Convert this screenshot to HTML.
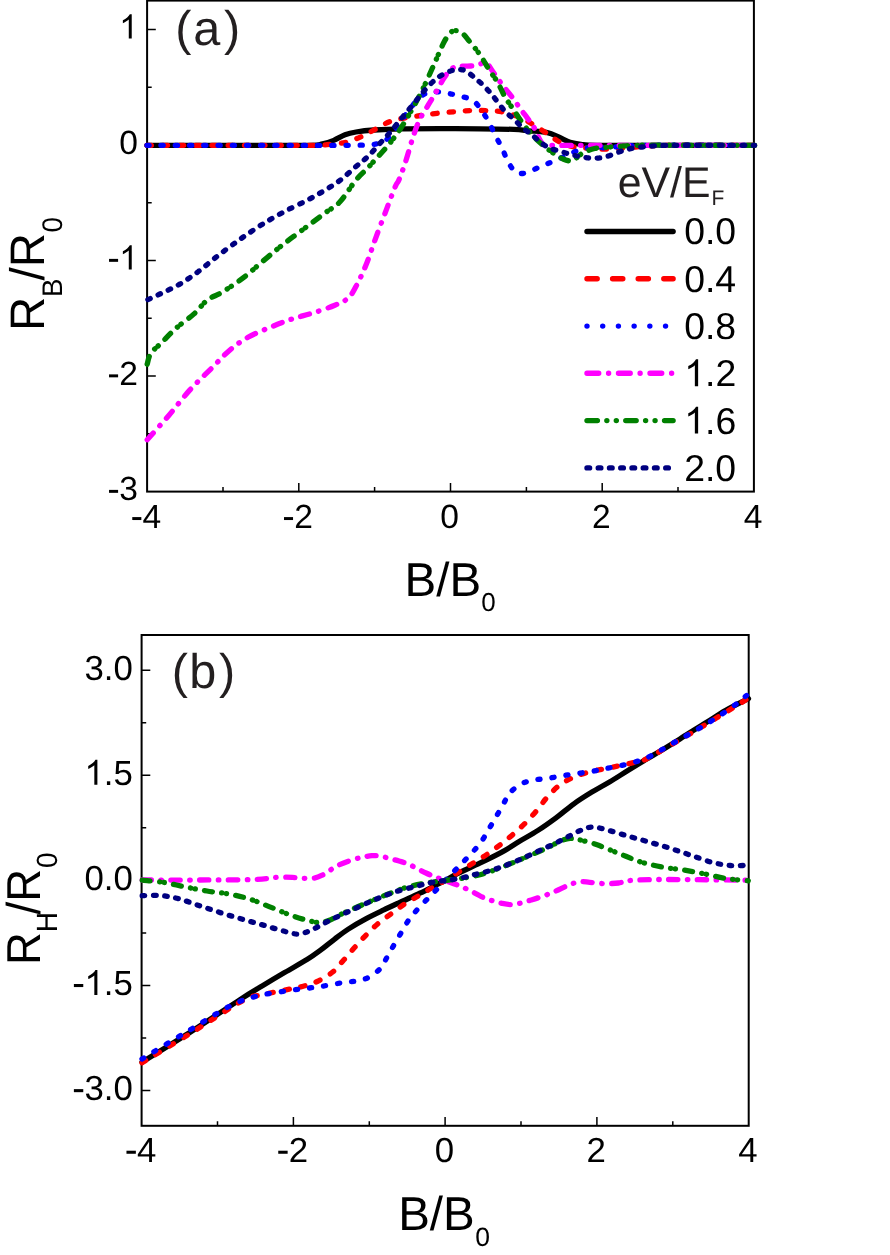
<!DOCTYPE html>
<html><head><meta charset="utf-8"><title>chart</title>
<style>html,body{margin:0;padding:0;background:#fff}body{width:890px;height:1255px;overflow:hidden}svg{display:block;will-change:transform}text{font-family:"Liberation Sans",sans-serif;fill:#000;text-rendering:geometricPrecision;font-kerning:none}.pl{fill:#231f20}.cv path{fill:none;stroke-width:5.3;stroke-linecap:round;stroke-linejoin:round}.cv.lg path{stroke-width:5.4}.fr{fill:none;stroke:#000;stroke-width:2}.tk{stroke:#000;stroke-width:1.5;fill:none}</style></head><body>
<svg width="890" height="1255" viewBox="0 0 890 1255">
<rect width="890" height="1255" fill="#fff"/>
<g id="pa">
<path class="tk" d="M223.0 491.6v-4.6M298.8 491.6v-8.7M374.6 491.6v-4.6M450.5 491.6v-8.7M526.4 491.6v-4.6M602.2 491.6v-8.7M678.0 491.6v-4.6M147.1 433.8h4.6M147.1 376.1h8.7M147.1 318.3h4.6M147.1 260.6h8.7M147.1 202.8h4.6M147.1 145.1h8.7M147.1 87.3h4.6M147.1 29.6h8.7"/>
<rect class="fr" x="147.1" y="0.6" width="606.8" height="491.0"/>
<path d="M132.27 520.04H141.34V517.08H132.27Z" fill="#000"/><text x="142.45" y="527.60" font-size="33.60">4</text>
<path d="M283.97 520.04H293.04V517.08H283.97Z" fill="#000"/><text x="294.15" y="527.60" font-size="33.60">2</text>
<text x="440.26" y="527.60" font-size="33.60">0</text>
<text x="591.96" y="527.60" font-size="33.60">2</text>
<text x="743.66" y="527.60" font-size="33.60">4</text>
<path d="M131.73 38.40L128.78 38.40L128.78 19.58Q127.71 20.60 125.98 21.62Q124.25 22.63 122.87 23.14L122.87 20.29Q125.35 19.12 127.20 17.47Q129.06 15.81 129.83 14.25L131.73 14.25Z" fill="#000"/>
<text x="119.21" y="153.90" font-size="33.60">0</text>
<path d="M109.03 261.84H118.10V258.88H109.03Z" fill="#000"/><path d="M131.73 269.40L128.78 269.40L128.78 250.58Q127.71 251.60 125.98 252.62Q124.25 253.63 122.87 254.14L122.87 251.29Q125.35 250.12 127.20 248.47Q129.06 246.81 129.83 245.25L131.73 245.25Z" fill="#000"/>
<path d="M109.03 377.34H118.10V374.38H109.03Z" fill="#000"/><text x="119.21" y="384.90" font-size="33.60">2</text>
<path d="M109.03 492.84H118.10V489.88H109.03Z" fill="#000"/><text x="119.21" y="500.40" font-size="33.60">3</text>
<g class="cv">
<path d="M147.0 145.3C164.2 145.3 222.8 145.3 250.0 145.3C277.2 145.3 297.9 145.6 310.0 145.3C322.1 145.1 318.6 144.6 322.5 143.8C326.4 143.0 329.9 141.9 333.7 140.4C337.4 138.9 341.3 136.2 345.0 134.8C348.7 133.4 351.2 132.8 356.0 132.0C360.8 131.2 366.5 130.5 374.0 130.0C381.5 129.5 390.0 129.0 401.0 128.8C412.0 128.6 426.8 128.6 440.0 128.6C453.2 128.6 467.7 128.7 480.0 128.8C492.3 128.9 505.5 129.1 513.7 129.4C521.9 129.7 523.8 130.3 529.4 130.8C535.0 131.3 542.5 131.6 547.4 132.6C552.3 133.6 554.9 135.4 558.7 137.0C562.5 138.6 566.3 141.1 570.0 142.3C573.7 143.5 576.5 143.9 581.0 144.4C585.5 144.9 583.8 145.2 597.0 145.3C610.2 145.5 633.8 145.3 660.0 145.3C686.2 145.3 738.8 145.3 754.5 145.3" stroke="#000000"/>
<path d="M147.0 145.3C164.2 145.3 222.0 145.3 250.0 145.3C278.0 145.3 302.2 145.4 315.0 145.3C327.8 145.2 322.0 145.2 327.0 144.7C332.0 144.2 339.4 143.8 345.0 142.5C350.6 141.2 355.9 139.0 360.7 136.9C365.5 134.8 369.1 132.6 374.0 130.0C378.9 127.4 384.7 123.5 390.0 121.5C395.3 119.5 400.4 118.8 405.6 117.8C410.8 116.8 415.8 116.2 421.0 115.5C426.2 114.8 431.3 113.9 437.0 113.3C442.7 112.7 449.4 112.2 455.0 111.7C460.6 111.2 465.6 110.8 470.8 110.6C476.1 110.4 481.4 110.4 486.5 110.6C491.6 110.8 495.8 110.6 501.3 111.7C506.8 112.8 514.0 114.9 519.3 117.0C524.5 119.1 528.3 121.8 532.8 124.5C537.3 127.2 542.0 130.2 546.3 133.0C550.6 135.8 554.4 139.2 558.7 141.5C563.0 143.8 566.8 145.3 572.0 146.5C577.2 147.7 583.5 148.1 590.0 148.5C596.5 148.9 604.3 149.2 611.0 149.0C617.7 148.8 623.5 148.0 630.0 147.5C636.5 147.0 641.7 146.2 650.0 145.8C658.3 145.4 662.6 145.4 680.0 145.3C697.4 145.2 742.1 145.3 754.5 145.3" stroke="#ff0000" stroke-dasharray="4.4 11.8"/>
<path d="M147.0 145.3C164.2 145.3 216.2 145.3 250.0 145.3C283.8 145.3 329.3 145.5 350.0 145.3C370.7 145.1 368.1 145.1 374.0 144.3C379.9 143.5 381.6 143.2 385.4 140.5C389.2 137.8 392.5 133.3 396.6 128.0C400.7 122.7 405.9 114.1 410.0 108.8C414.1 103.5 417.5 98.8 421.3 96.0C425.1 93.2 428.5 92.4 432.6 91.9C436.7 91.4 441.5 92.3 446.0 93.0C450.5 93.7 455.1 94.8 459.6 96.0C464.1 97.2 469.3 98.0 473.0 100.5C476.7 103.0 479.4 107.4 482.0 111.0C484.6 114.6 486.6 118.1 488.8 122.2C491.1 126.3 493.3 131.4 495.5 135.7C497.7 140.0 499.9 143.8 502.0 148.1C504.1 152.4 505.9 157.7 508.0 161.6C510.1 165.5 512.6 169.5 514.8 171.5C517.0 173.5 518.8 173.4 521.0 173.5C523.2 173.6 524.8 173.2 528.3 172.0C531.8 170.8 537.5 167.8 541.8 166.0C546.1 164.2 550.1 162.8 554.2 161.0C558.3 159.2 562.4 157.3 566.5 155.5C570.6 153.7 574.6 151.4 578.9 150.0C583.2 148.6 587.7 147.7 592.4 147.3C597.1 146.9 601.6 148.0 607.0 147.8C612.4 147.6 617.8 146.4 625.0 146.0C632.2 145.6 628.4 145.4 650.0 145.3C671.6 145.2 737.1 145.3 754.5 145.3" stroke="#0000ff" stroke-dasharray="2.2 12.0"/>
<path d="M147.2 439.8C150.8 435.7 161.6 423.8 168.8 415.4C176.0 407.0 183.2 397.3 190.4 389.4C197.6 381.5 205.4 374.4 212.0 367.8C218.6 361.2 224.0 355.0 230.0 349.9C236.0 344.8 241.4 341.0 248.0 337.3C254.6 333.6 262.3 330.6 269.5 327.6C276.7 324.6 283.8 321.7 291.0 319.3C298.2 316.9 305.5 315.3 312.7 313.0C319.9 310.7 328.2 308.1 334.2 305.5C340.2 302.9 344.7 301.4 348.6 297.7C352.5 294.0 354.6 289.0 357.6 283.3C360.6 277.6 363.6 271.0 366.6 263.5C369.6 256.0 372.3 247.3 375.6 238.3C378.9 229.3 383.1 218.3 386.4 209.6C389.7 200.9 393.3 191.1 395.4 186.2C397.5 181.3 397.2 184.1 398.9 180.0C400.6 175.9 403.4 168.4 405.6 161.6C407.9 154.8 410.2 145.9 412.4 139.1C414.6 132.3 416.4 126.6 419.0 121.0C421.6 115.4 425.4 109.9 428.0 105.4C430.6 100.9 432.2 98.7 434.8 94.2C437.4 89.7 441.2 82.5 443.8 78.4C446.4 74.3 448.4 71.8 450.6 69.8C452.9 67.8 453.9 66.9 457.3 66.3C460.7 65.7 467.1 66.4 470.8 66.0C474.6 65.6 477.2 64.5 479.8 64.0C482.4 63.5 484.2 61.8 486.5 63.2C488.8 64.6 490.8 68.8 493.5 72.5C496.2 76.2 499.5 81.2 502.5 85.2C505.5 89.2 508.5 92.5 511.5 96.4C514.5 100.3 517.8 105.2 520.4 108.8C523.0 112.4 524.9 114.7 527.2 117.8C529.5 120.9 532.1 124.3 534.0 127.5C535.9 130.7 537.0 134.3 538.4 137.0C539.8 139.7 540.7 142.2 542.5 143.6C544.3 145.0 539.4 145.0 549.0 145.3C558.6 145.6 565.8 145.3 600.0 145.3C634.2 145.3 728.8 145.3 754.5 145.3" stroke="#ff00ff" stroke-dasharray="9.3 9.45 0.5 9.45"/>
<path d="M147.2 364.2C147.8 362.4 148.4 357.0 150.8 353.4C153.2 349.8 157.4 346.8 161.6 342.6C165.8 338.4 170.6 333.1 176.0 328.3C181.4 323.5 188.8 318.6 194.0 313.9C199.2 309.2 202.6 303.7 207.4 300.0C212.2 296.3 216.7 295.7 223.1 291.7C229.5 287.7 239.2 280.9 245.6 276.0C252.0 271.1 256.4 266.6 261.3 262.5C266.2 258.4 270.7 254.6 274.8 251.2C278.9 247.8 281.9 245.4 286.0 242.2C290.1 239.0 295.0 235.5 299.5 232.1C304.0 228.7 308.5 225.4 313.0 222.0C317.5 218.6 322.0 215.3 326.5 211.9C331.0 208.5 335.1 207.1 340.0 201.8C344.9 196.5 351.4 185.6 356.0 180.0C360.6 174.4 363.6 172.3 367.4 168.3C371.2 164.3 374.8 160.2 378.6 156.0C382.4 151.8 386.3 147.7 390.0 143.0C393.7 138.3 397.3 133.6 401.0 127.9C404.7 122.2 408.6 115.5 412.4 108.8C416.2 102.0 419.9 95.1 423.6 87.4C427.3 79.7 431.4 70.2 434.8 62.7C438.2 55.2 441.2 47.5 443.8 42.5C446.4 37.5 448.6 34.8 450.5 32.8C452.4 30.8 453.1 30.6 455.0 30.6C456.9 30.6 459.6 31.2 461.8 32.8C464.1 34.4 465.5 36.6 468.5 40.2C471.5 43.8 476.4 49.6 479.8 54.5C483.2 59.4 486.0 64.7 489.0 69.4C492.0 74.2 495.4 78.5 498.0 83.0C500.6 87.5 502.1 91.9 504.7 96.4C507.3 100.9 510.7 105.5 513.7 110.0C516.7 114.5 519.3 118.9 522.7 123.4C526.1 127.9 530.2 133.0 534.0 136.9C537.8 140.8 541.8 144.2 545.2 147.0C548.6 149.8 551.2 151.7 554.2 153.7C557.2 155.7 560.6 157.8 563.1 159.0C565.6 160.2 567.1 160.7 569.0 160.8C570.9 160.9 572.0 160.9 574.4 159.5C576.8 158.1 580.0 154.4 583.4 152.6C586.8 150.8 590.9 149.4 594.6 148.5C598.3 147.6 601.7 147.8 605.8 147.4C609.9 147.0 614.0 146.7 619.3 146.3C624.5 146.0 623.8 145.5 637.3 145.3C650.8 145.1 680.3 145.3 700.0 145.3C719.7 145.3 746.2 145.3 755.5 145.3" stroke="#008000" stroke-dasharray="8 9.3 0.3 4.4 0.3 9.3"/>
<path d="M147.9 299.6C150.3 298.5 157.1 295.4 162.5 292.8C167.9 290.2 174.4 287.4 180.4 283.8C186.4 280.2 192.4 276.0 198.4 271.5C204.4 267.0 210.4 261.6 216.4 256.9C222.4 252.2 229.5 247.0 234.4 243.4C239.3 239.8 240.7 238.7 245.6 235.4C250.5 232.1 257.2 227.4 263.6 223.5C270.0 219.6 276.7 215.7 283.8 211.9C290.9 208.1 299.6 204.2 306.3 200.7C313.1 197.1 318.7 194.0 324.3 190.6C329.9 187.2 334.7 184.4 340.0 180.4C345.3 176.4 351.4 170.4 356.0 166.5C360.6 162.6 363.6 160.6 367.4 157.0C371.2 153.4 374.9 148.8 378.7 144.7C382.5 140.6 386.3 136.7 390.0 132.4C393.7 128.1 397.3 123.4 401.0 118.9C404.7 114.4 408.6 110.0 412.4 105.4C416.2 100.8 419.9 95.7 423.6 91.5C427.3 87.3 431.4 82.9 434.8 80.0C438.2 77.1 440.8 75.6 443.8 74.0C446.8 72.4 450.2 71.0 452.8 70.3C455.4 69.5 457.4 69.3 459.6 69.5C461.9 69.7 463.7 69.7 466.3 71.2C468.9 72.7 472.3 75.9 475.3 78.4C478.3 80.9 481.3 83.3 484.3 86.3C487.3 89.3 489.9 92.3 493.3 96.4C496.7 100.5 501.3 107.2 504.7 111.0C508.1 114.8 510.7 116.1 513.7 118.9C516.7 121.7 519.7 125.3 522.7 127.9C525.7 130.5 528.7 132.2 531.7 134.6C534.7 137.0 537.7 140.2 540.7 142.5C543.7 144.8 546.3 146.6 549.7 148.1C553.1 149.6 557.2 150.4 560.9 151.5C564.6 152.6 568.4 153.9 572.1 154.8C575.9 155.8 579.6 156.6 583.4 157.2C587.1 157.8 590.9 158.4 594.6 158.3C598.3 158.2 602.0 157.8 605.8 156.8C609.5 155.9 613.4 153.9 617.1 152.6C620.9 151.3 624.2 150.1 628.3 149.2C632.4 148.3 637.3 147.6 641.8 147.0C646.3 146.4 650.4 146.1 655.3 145.8C660.2 145.5 654.5 145.4 671.0 145.3C687.5 145.2 740.6 145.3 754.5 145.3" stroke="#000080" stroke-dasharray="2.6 8.65"/>
</g>
<text class="pl" x="175.30" y="44.70" font-size="48.60">(<tspan dx="1.70">a</tspan><tspan dx="3.90">)</tspan></text>
<text class="pl" x="617.70" y="197.00" font-size="42.80">eV/E<tspan font-size="21.00" dx="0.90" dy="8.00">F</tspan></text>
<g class="cv lg">
<path d="M587.0 231.5H673.1" stroke="#000000"/>
<path d="M587.0 278.8H673.1" stroke="#ff0000" stroke-dasharray="10.2 15.4"/>
<path d="M587.0 326.1H673.1" stroke="#0000ff" stroke-dasharray="0.01 15.7"/>
<path d="M587.0 373.3H673.1" stroke="#ff00ff" stroke-dasharray="11.7 9.9 0.01 9.9"/>
<path d="M587.0 420.6H673.1" stroke="#008000" stroke-dasharray="10.4 9.45 0.01 9.45 0.01 9.45"/>
<path d="M587.0 467.9H673.1" stroke="#000080" stroke-dasharray="2.6 8.65"/>
</g>
<text x="684.20" y="244.40" font-size="37.40">0.0</text>
<text x="684.20" y="291.68" font-size="37.40">0.4</text>
<text x="684.20" y="338.96" font-size="37.40">0.8</text>
<path d="M698.13 386.24L694.85 386.24L694.85 365.30Q693.66 366.43 691.73 367.56Q689.81 368.69 688.27 369.26L688.27 366.08Q691.03 364.78 693.09 362.94Q695.16 361.09 696.01 359.36L698.13 359.36Z" fill="#000"/><text x="705.00" y="386.24" font-size="37.40">.2</text>
<path d="M698.13 433.52L694.85 433.52L694.85 412.58Q693.66 413.71 691.73 414.84Q689.81 415.97 688.27 416.54L688.27 413.36Q691.03 412.06 693.09 410.22Q695.16 408.37 696.01 406.64L698.13 406.64Z" fill="#000"/><text x="705.00" y="433.52" font-size="37.40">.6</text>
<text x="684.20" y="480.80" font-size="37.40">2.0</text>
<text x="404.60" y="595.50" font-size="47.50">B/B<tspan font-size="26.00" dx="0.00" dy="15.50">0</tspan></text>
<text transform="translate(44.20 331.00) rotate(-90) scale(1 1.020)" font-size="47.50">R<tspan font-size="27.80" dx="-0.40" dy="17.10">B</tspan><tspan font-size="47.50" dy="-17.10" dx="-1.90">/R</tspan><tspan font-size="27.80" dx="0.45" dy="17.10">0</tspan></text>
</g>
<g id="pb">
<path class="tk" d="M217.5 1125.8v-4.6M293.4 1125.8v-8.7M369.3 1125.8v-4.6M445.1 1125.8v-8.7M521.0 1125.8v-4.6M596.9 1125.8v-8.7M672.8 1125.8v-4.6M141.6 1090.6h8.7M141.6 1038.1h4.6M141.6 985.5h8.7M141.6 933.0h4.6M141.6 880.4h8.7M141.6 827.8h4.6M141.6 775.3h8.7M141.6 722.7h4.6M141.6 670.2h8.7"/>
<rect class="fr" x="141.6" y="635.0" width="607.1" height="490.8"/>
<path d="M126.46 1153.77H135.86V1150.71H126.46Z" fill="#000"/><text x="137.01" y="1161.60" font-size="34.80">4</text>
<path d="M278.24 1153.77H287.64V1150.71H278.24Z" fill="#000"/><text x="288.79" y="1161.60" font-size="34.80">2</text>
<text x="434.77" y="1161.60" font-size="34.80">0</text>
<text x="586.55" y="1161.60" font-size="34.80">2</text>
<text x="738.33" y="1161.60" font-size="34.80">4</text>
<text x="84.42" y="679.59" font-size="34.80">3.0</text>
<path d="M97.39 784.69L94.33 784.69L94.33 765.21Q93.22 766.26 91.43 767.31Q89.64 768.37 88.21 768.89L88.21 765.93Q90.78 764.73 92.70 763.01Q94.62 761.30 95.42 759.68L97.39 759.68Z" fill="#000"/><text x="103.78" y="784.69" font-size="34.80">.5</text>
<text x="84.42" y="889.80" font-size="34.80">0.0</text>
<path d="M73.88 987.07H83.27V984.01H73.88Z" fill="#000"/><path d="M97.39 994.90L94.33 994.90L94.33 975.42Q93.22 976.47 91.43 977.52Q89.64 978.58 88.21 979.10L88.21 976.14Q90.78 974.94 92.70 973.22Q94.62 971.51 95.42 969.89L97.39 969.89Z" fill="#000"/><text x="103.78" y="994.90" font-size="34.80">.5</text>
<path d="M73.88 1092.18H83.27V1089.12H73.88Z" fill="#000"/><text x="84.42" y="1100.01" font-size="34.80">3.0</text>
<g class="cv">
<path d="M142.0 1062.2C149.8 1057.3 172.7 1043.4 189.0 1033.0C205.3 1022.6 227.8 1007.5 240.0 999.6C252.2 991.7 255.0 990.3 262.5 985.8C270.0 981.2 277.5 976.7 285.0 972.3C292.5 967.9 301.4 963.0 307.4 959.3C313.4 955.6 316.4 953.2 320.9 949.9C325.4 946.6 329.9 942.7 334.4 939.3C338.9 935.9 342.7 932.8 347.9 929.4C353.1 926.0 359.8 922.1 365.8 918.9C371.8 915.6 377.8 912.8 383.8 909.9C389.8 907.0 395.8 904.3 401.8 901.5C407.8 898.7 414.3 895.9 419.8 893.2C425.3 890.6 430.8 887.7 435.0 885.6C439.2 883.5 441.5 882.5 445.2 880.5C449.0 878.5 451.6 876.5 457.4 873.6C463.2 870.7 472.3 866.8 479.8 863.2C487.3 859.6 495.6 855.6 502.3 851.9C509.0 848.2 514.0 844.6 520.0 841.0C526.0 837.4 532.0 834.3 538.0 830.4C544.0 826.5 550.0 822.2 556.0 817.8C562.0 813.4 567.9 808.1 573.9 803.8C579.9 799.5 585.9 795.8 591.9 792.1C597.9 788.4 603.9 785.4 609.9 781.8C615.9 778.2 621.9 774.2 627.9 770.5C633.9 766.8 639.8 763.2 645.8 759.6C651.8 756.0 658.1 752.5 663.8 749.0C669.5 745.5 675.6 741.6 680.0 738.9C684.4 736.1 685.4 735.4 690.0 732.5C694.6 729.6 701.9 725.2 707.9 721.5C713.9 717.8 719.0 714.1 725.8 710.3C732.6 706.5 744.7 700.5 748.5 698.6" stroke="#000000"/>
<path d="M142.0 1062.8C149.8 1058.0 172.2 1044.6 189.0 1034.2C205.8 1023.8 231.0 1007.0 243.0 1000.5C255.0 994.0 253.8 996.8 261.0 995.0C268.2 993.2 278.8 991.3 286.0 989.8C293.2 988.3 298.6 987.5 304.0 986.0C309.4 984.5 313.7 983.2 318.5 980.8C323.3 978.4 328.8 975.3 333.0 971.8C337.2 968.3 340.0 964.1 343.7 960.0C347.4 955.9 351.2 951.2 355.0 947.0C358.8 942.8 362.5 938.6 366.3 934.8C370.1 931.0 373.5 927.5 377.6 924.0C381.7 920.5 386.6 917.1 391.0 913.9C395.4 910.6 399.4 907.5 403.9 904.5C408.4 901.5 413.4 899.0 418.0 896.2C422.6 893.5 427.0 890.6 431.5 888.0C436.0 885.4 440.6 883.2 445.2 880.5C449.9 877.8 454.8 874.5 459.6 871.5C464.4 868.5 469.5 865.3 474.2 862.4C478.9 859.5 483.2 857.0 487.7 853.9C492.2 850.8 496.9 847.3 501.2 844.0C505.5 840.7 509.4 837.5 513.5 833.9C517.6 830.3 522.0 826.5 525.9 822.5C529.8 818.5 533.6 814.3 537.1 810.1C540.6 805.9 543.4 801.5 547.0 797.5C550.6 793.5 554.5 789.1 558.7 785.8C562.9 782.5 567.3 780.1 572.1 777.9C576.9 775.7 582.1 774.0 587.4 772.5C592.6 771.0 598.2 770.0 603.6 768.9C609.0 767.8 614.4 766.8 619.8 765.6C625.2 764.5 631.4 763.2 636.0 762.0C640.6 760.8 636.6 764.1 647.5 758.3C658.4 752.5 684.7 737.0 701.5 727.0C718.3 717.0 740.7 703.0 748.5 698.2" stroke="#ff0000" stroke-dasharray="4.4 11.8"/>
<path d="M142.0 1059.0C149.8 1054.2 174.3 1039.3 189.0 1030.5C203.7 1021.7 218.6 1011.8 230.0 1006.0C241.4 1000.2 247.4 998.6 257.4 996.0C267.4 993.4 280.2 992.0 289.8 990.5C299.4 989.0 308.4 988.2 315.0 987.3C321.6 986.4 324.6 985.8 329.4 985.0C334.2 984.2 339.2 983.1 343.7 982.4C348.2 981.7 352.1 981.9 356.3 981.0C360.5 980.1 364.9 979.4 369.0 977.2C373.1 975.0 377.8 971.3 380.8 968.0C383.8 964.7 384.8 961.1 387.0 957.2C389.2 953.4 391.6 949.0 394.0 944.9C396.4 940.8 398.8 936.7 401.2 932.6C403.6 928.5 405.9 924.1 408.6 920.2C411.3 916.3 414.2 913.0 417.4 909.4C420.5 905.8 424.3 902.2 427.5 898.9C430.7 895.6 433.5 892.7 436.5 889.6C439.5 886.5 442.3 883.5 445.2 880.5C448.2 877.5 451.0 874.5 454.0 871.4C457.0 868.3 459.8 865.4 463.0 862.1C466.2 858.8 470.0 855.2 473.1 851.6C476.2 848.0 479.2 844.7 481.9 840.8C484.6 836.9 486.9 832.5 489.3 828.4C491.7 824.3 494.1 820.2 496.5 816.1C498.9 812.0 501.3 807.6 503.5 803.8C505.7 799.9 506.7 796.3 509.7 793.0C512.7 789.7 517.4 786.0 521.5 783.8C525.6 781.6 530.0 780.9 534.2 780.0C538.4 779.1 542.3 779.3 546.8 778.6C551.3 777.9 556.3 776.8 561.1 776.0C565.9 775.2 570.2 774.5 575.5 773.7C580.8 772.9 587.7 772.1 592.8 771.2C597.9 770.3 601.6 769.4 606.3 768.5C610.9 767.6 615.9 766.7 620.7 765.6C625.5 764.5 630.1 763.5 635.0 762.0C639.9 760.5 643.8 759.3 650.0 756.3C656.2 753.3 663.4 748.7 672.0 743.8C680.6 738.9 691.8 732.9 701.5 727.0C711.2 721.1 722.5 713.9 730.0 708.6C737.5 703.4 743.8 697.7 746.5 695.5" stroke="#0000ff" stroke-dasharray="2.2 12.0"/>
<path d="M142.2 880.0C151.8 880.0 181.4 880.1 200.0 880.0C218.6 879.9 240.6 880.0 253.8 879.5C267.0 879.0 271.8 877.5 279.0 877.2C286.2 876.9 291.6 877.5 297.0 877.7C302.4 877.9 307.2 878.9 311.4 878.5C315.6 878.1 318.0 877.2 322.2 875.2C326.4 873.2 331.8 868.7 336.6 866.2C341.4 863.7 346.6 861.7 351.0 860.2C355.4 858.7 359.5 858.0 363.0 857.2C366.5 856.4 369.0 855.8 372.0 855.6C375.0 855.5 378.0 855.8 381.0 856.3C384.0 856.8 387.0 857.8 390.0 858.6C393.0 859.4 396.0 860.1 399.0 861.0C402.0 861.9 405.0 862.6 408.0 863.9C411.0 865.1 414.0 867.0 417.0 868.5C420.0 870.0 423.0 871.6 426.0 873.0C429.0 874.4 431.8 875.6 435.0 876.9C438.2 878.1 441.5 879.1 445.2 880.5C449.0 881.9 453.9 883.6 457.4 885.0C460.9 886.4 463.3 887.4 466.3 888.8C469.3 890.2 472.3 891.8 475.3 893.3C478.3 894.8 481.3 896.7 484.3 898.0C487.3 899.3 490.3 900.1 493.3 901.0C496.3 901.9 499.3 902.8 502.3 903.4C505.3 904.0 508.3 904.6 511.3 904.6C514.3 904.6 517.3 903.9 520.3 903.2C523.3 902.5 526.1 901.6 529.3 900.6C532.5 899.6 535.2 898.8 539.3 897.4C543.4 896.0 548.9 894.0 553.7 892.0C558.5 890.0 563.8 887.1 568.0 885.4C572.2 883.7 575.3 882.3 578.9 881.8C582.5 881.3 585.5 882.0 589.7 882.3C593.9 882.6 599.2 883.5 604.0 883.6C608.8 883.7 614.3 883.5 618.5 883.0C622.7 882.5 623.8 881.2 629.2 880.6C634.6 880.0 641.2 879.8 650.8 879.6C660.4 879.4 670.5 879.5 686.8 879.6C703.0 879.7 738.0 880.1 748.3 880.2" stroke="#ff00ff" stroke-dasharray="9.3 9.45 0.5 9.45"/>
<path d="M142.2 880.2C145.8 880.6 156.6 881.3 163.8 882.4C171.0 883.5 178.2 885.6 185.4 887.0C192.6 888.4 199.8 889.8 207.0 891.0C214.2 892.2 221.4 892.6 228.6 894.0C235.8 895.4 243.0 896.9 250.2 899.2C257.4 901.5 264.6 904.8 271.8 907.6C279.0 910.4 286.8 913.9 293.4 916.2C300.0 918.5 306.9 920.2 311.4 921.3C315.9 922.4 317.4 922.8 320.4 922.6C323.4 922.4 325.5 921.8 329.4 920.2C333.3 918.6 337.8 915.8 343.8 913.0C349.8 910.2 358.2 906.6 365.4 903.5C372.6 900.4 379.8 897.3 387.0 894.5C394.2 891.7 401.4 888.8 408.6 886.8C415.8 884.8 423.9 883.4 430.0 882.4C436.1 881.4 440.2 881.1 445.2 880.5C450.3 879.9 454.4 879.6 460.5 878.6C466.6 877.6 474.7 876.2 481.9 874.2C489.1 872.2 496.3 869.3 503.5 866.5C510.7 863.7 517.9 860.6 525.1 857.5C532.3 854.4 540.7 850.8 546.7 848.0C552.7 845.2 557.2 842.4 561.1 840.8C565.0 839.2 567.1 838.6 570.1 838.4C573.1 838.2 574.6 838.6 579.1 839.7C583.6 840.8 590.5 842.5 597.1 844.8C603.7 847.1 611.5 850.6 618.7 853.4C625.9 856.2 633.1 859.5 640.3 861.8C647.5 864.1 654.7 865.6 661.9 867.0C669.1 868.4 676.3 868.8 683.5 870.0C690.7 871.2 697.9 872.6 705.1 874.0C712.3 875.4 719.5 877.5 726.7 878.6C733.9 879.7 744.7 880.4 748.3 880.8" stroke="#008000" stroke-dasharray="8 9.3 0.3 4.4 0.3 9.3"/>
<path d="M142.2 895.7C145.2 895.7 154.2 895.0 160.2 895.5C166.2 896.0 171.6 896.9 178.2 898.6C184.8 900.3 192.6 903.4 199.8 905.8C207.0 908.2 214.2 910.7 221.4 913.0C228.6 915.3 235.8 917.3 243.0 919.4C250.2 921.5 257.4 923.4 264.6 925.5C271.8 927.6 280.5 930.4 286.2 931.8C291.9 933.2 294.6 934.3 298.8 934.0C303.0 933.7 306.3 932.2 311.4 930.0C316.5 927.8 322.8 923.9 329.4 920.6C336.0 917.3 343.8 913.7 351.0 910.4C358.2 907.1 365.4 903.6 372.6 900.6C379.8 897.6 387.0 894.6 394.2 892.2C401.4 889.8 409.5 888.0 415.8 886.4C422.1 884.8 427.1 883.4 432.0 882.4C436.9 881.4 440.8 881.1 445.2 880.5C449.7 879.9 453.6 879.6 458.5 878.6C463.4 877.6 468.4 876.2 474.7 874.6C481.0 873.0 489.1 871.2 496.3 868.8C503.5 866.4 510.7 863.4 517.9 860.4C525.1 857.4 532.3 853.9 539.5 850.6C546.7 847.3 554.5 843.7 561.1 840.4C567.7 837.1 574.0 833.2 579.1 831.0C584.2 828.8 587.5 827.3 591.7 827.0C595.9 826.7 598.6 827.8 604.3 829.2C610.0 830.6 618.7 833.4 625.9 835.5C633.1 837.6 640.3 839.5 647.5 841.6C654.7 843.7 661.9 845.7 669.1 848.0C676.3 850.3 683.5 852.8 690.7 855.2C697.9 857.6 705.7 860.7 712.3 862.4C718.9 864.1 724.3 865.0 730.3 865.5C736.3 866.0 745.3 865.3 748.3 865.3" stroke="#000080" stroke-dasharray="2.6 8.65"/>
</g>
<text class="pl" x="171.70" y="687.50" font-size="48.60">(<tspan dx="1.30">b</tspan><tspan dx="2.90">)</tspan></text>
<text x="398.20" y="1230.20" font-size="47.50">B/B<tspan font-size="26.50" dx="0.40" dy="15.70">0</tspan></text>
<text transform="translate(40.00 965.00) rotate(-90) scale(1 1.045)" font-size="45.50">R<tspan font-size="28.00" dx="-0.20" dy="16.50">H</tspan><tspan font-size="45.50" dy="-16.50" dx="-2.30">/R</tspan><tspan font-size="28.00" dx="1.00" dy="16.50">0</tspan></text>
</g>
</svg></body></html>
